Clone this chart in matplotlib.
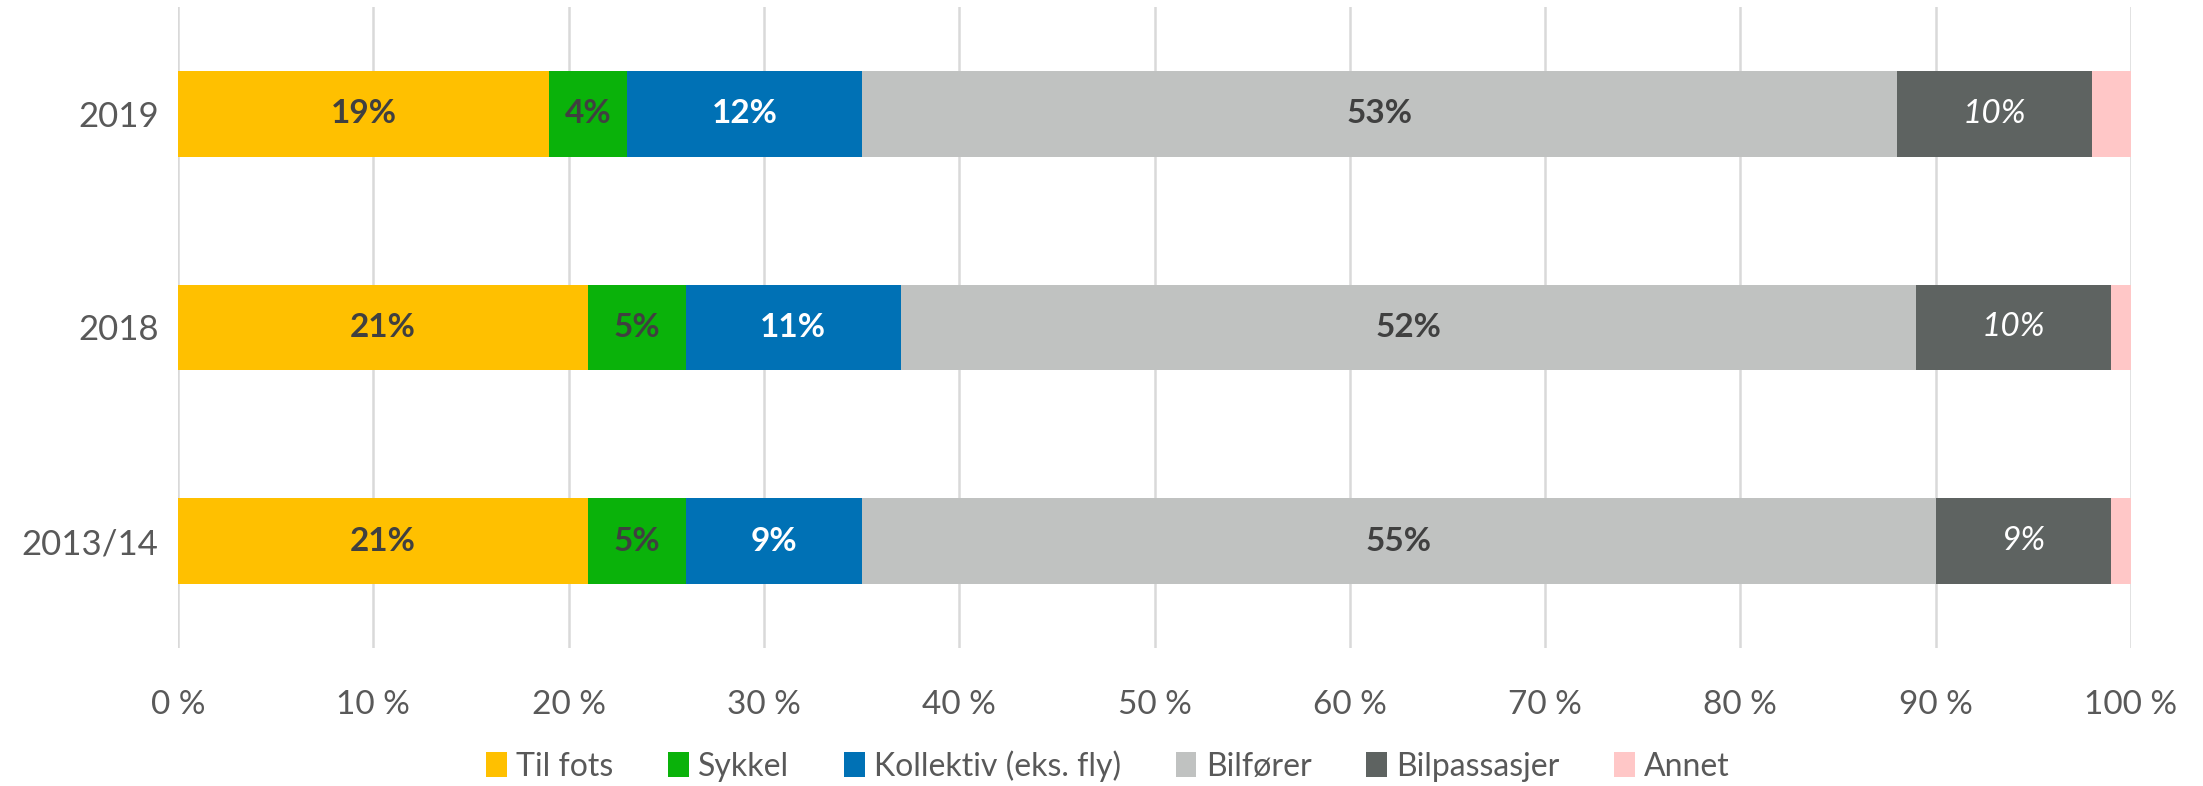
import matplotlib
matplotlib.use("Agg")
import matplotlib.pyplot as plt
from matplotlib.patches import Patch

plt.rcParams['font.family'] = ['Lato', 'DejaVu Sans']

years = ["2013/14", "2018", "2019"]
categories = ["Til fots", "Sykkel", "Kollektiv (eks. fly)", "Bilfører", "Bilpassasjer", "Annet"]
til_fots = [21, 21, 19]
sykkel = [5, 5, 4]
kollektiv = [9, 11, 12]
bilforer = [55, 52, 53]
bilpassasjer = [9, 10, 10]
annet = [1, 1, 2]
xticks = [0, 10, 20, 30, 40, 50, 60, 70, 80, 90, 100]
xticklabels = ["0 %", "10 %", "20 %", "30 %", "40 %", "50 %", "60 %", "70 %", "80 %", "90 %", "100 %"]

series = [til_fots, sykkel, kollektiv, bilforer, bilpassasjer, annet]
colors = ["#FFC000", "#0AB20A", "#0071B5", "#C0C2C1", "#5E6361", "#FFC7C7"]
label_styles = [
    dict(color="#404040", fontweight="bold", fontstyle="normal"),
    dict(color="#404040", fontweight="bold", fontstyle="normal"),
    dict(color="white", fontweight="bold", fontstyle="normal"),
    dict(color="#404040", fontweight="bold", fontstyle="normal"),
    dict(color="white", fontweight="normal", fontstyle="italic"),
    None,
]

fig = plt.figure(figsize=(22.03, 7.86), dpi=100)
ax = fig.add_axes([178/2203, 1-648/786, (2131-178)/2203, (648-7)/786])

ypos = list(range(len(years)))
left = [0.0]*len(years)
for vals, col, sty in zip(series, colors, label_styles):
    ax.barh(ypos, vals, left=left, height=0.4, color=col, zorder=3)
    if sty is not None:
        for i, v in enumerate(vals):
            ax.text(left[i] + v/2, ypos[i], f"{v}%", ha="center", va="center",
                    fontsize=24, zorder=4, **sty)
    left = [l + v for l, v in zip(left, vals)]

ax.set_xlim(0, 100)
ax.set_ylim(-0.5, 2.5)
ax.set_yticks(ypos)
ax.set_yticklabels(years)
ax.set_xticks(xticks)
ax.set_xticklabels(xticklabels)
ax.tick_params(axis="both", length=0, labelcolor="#595959")
ax.tick_params(axis="x", pad=30, labelsize=24)
ax.tick_params(axis="y", pad=14, labelsize=25)
ax.grid(axis="x", color="#D9D9D9", linewidth=1.8, zorder=0)
for s in ax.spines.values():
    s.set_visible(False)

handles = [Patch(facecolor=c, label=l) for c, l in zip(colors, categories)]
fig.legend(handles=handles, loc="center", bbox_to_anchor=(0.503, 1-766/786), ncol=6,
           frameon=False, fontsize=23, labelcolor="#595959", handlelength=0.65,
           handleheight=0.85, handletextpad=0.3, columnspacing=1.7)

fig.savefig("out.png", dpi=100)
